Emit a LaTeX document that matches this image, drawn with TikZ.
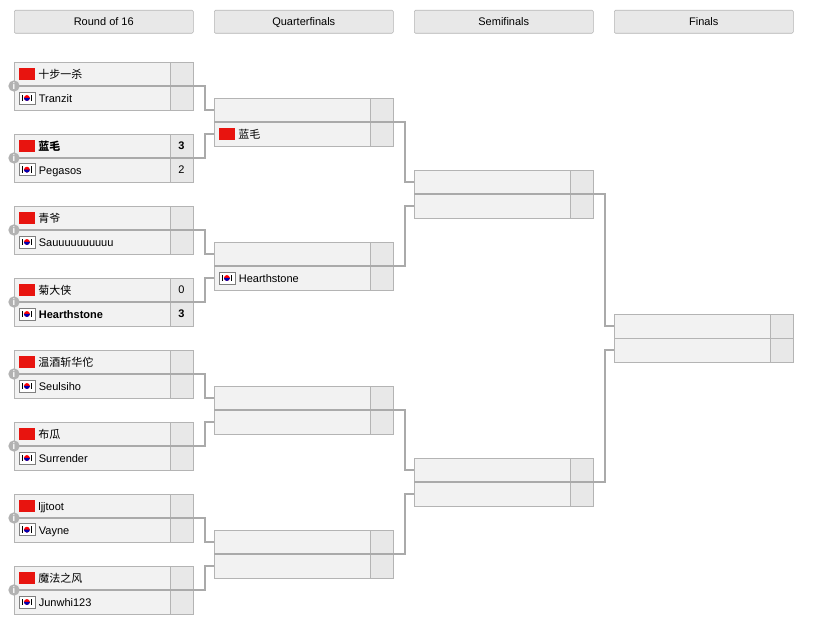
\documentclass[tikz,border=0pt]{standalone}
\usepackage{fontspec}
\setmainfont{Liberation Sans}
\newfontfamily\cjk{Noto Sans CJK SC}
\usetikzlibrary{positioning}
\definecolor{boxfill}{HTML}{F2F2F2}
\definecolor{scorefill}{HTML}{E8E8E8}
\definecolor{boxline}{HTML}{B4B4B4}
\definecolor{linkgray}{HTML}{AAAAAA}
\definecolor{flagred}{HTML}{E8140F}
\newcommand\cn{\tikz[baseline=1pt]\fill[flagred] (0,0) rectangle (12pt,9pt);}
\newcommand\kr{\tikz[baseline=1pt]{\draw[gray,fill=white] (0,0) rectangle (12pt,9pt);
  \fill[red] (6pt,4.5pt) circle (2.2pt); \fill[blue!70!black] (6pt,4.5pt) ++(-2.2pt,0) arc (180:360:2.2pt);
  \fill[black] (2pt,2pt) rectangle (3pt,7pt); \fill[black] (9pt,2pt) rectangle (10pt,7pt);}}
% one row of a match: name part and score part
\newcommand\slot[5]{%
  \node[slot] (#1) at (#2,#3) {#4};
  \node[score, right=0pt of #1] (#1s) {#5};}
\begin{document}
\begin{tikzpicture}[x=0.75pt,y=-0.75pt,
  font=\fontsize{8.25}{10}\selectfont,
  slot/.style={anchor=north west,draw=boxline,fill=boxfill,text width=110pt,inner xsep=3.5pt,inner ysep=0pt,minimum height=18pt,outer sep=0pt},
  score/.style={draw=boxline,fill=scorefill,minimum width=17.25pt,minimum height=18pt,inner sep=0pt,outer sep=0pt},
  head/.style={anchor=north west,draw=boxline,fill=scorefill,rounded corners=1pt,minimum width=134.25pt,minimum height=17.25pt,inner sep=0pt,text height=5pt,text depth=0pt},
  link/.style={draw=linkgray,line width=1.5pt},
  info/.style={circle,fill=linkgray!90,text=white,inner sep=0pt,minimum size=8.5pt,font=\fontsize{7}{7}\bfseries}]
\useasboundingbox (0,0) rectangle (840,620);
% headers
\node[head] (h1) at (14,10) {Round of 16};
\node[head] (h2) at (214,10) {Quarterfinals};
\node[head] (h3) at (414,10) {Semifinals};
\node[head] (h4) at (614,10) {Finals};
% round of 16
\foreach \i/\ta/\tb/\sa/\sb in {
  1/{\cjk 十步一杀}/Tranzit//,
  2/{\cjk\bfseries 蓝毛}/Pegasos/\textbf{3}/2,
  3/{\cjk 青爷}/Sauuuuuuuuuu//,
  4/{\cjk 菊大侠}/\textbf{Hearthstone}/0/\textbf{3},
  5/{\cjk 温酒斩华佗}/Seulsiho//,
  6/{\cjk 布瓜}/Surrender//,
  7/ljjtoot/Vayne//,
  8/{\cjk 魔法之风}/Junwhi123//}{
  \pgfmathsetmacro\y{62+72*(\i-1)}
  \slot{r\i t}{14}{\y}{\cn\ \ta}{\sa}
  \slot{r\i b}{14}{\y+24}{\kr\ \tb}{\sb}
}
% quarterfinals
\slot{q1t}{214}{98}{}{}
\slot{q1b}{214}{122}{\cn\ {\cjk 蓝毛}}{}
\slot{q2t}{214}{242}{}{}
\slot{q2b}{214}{266}{\kr\ Hearthstone}{}
\slot{q3t}{214}{386}{}{}
\slot{q3b}{214}{410}{}{}
\slot{q4t}{214}{530}{}{}
\slot{q4b}{214}{554}{}{}
% semifinals and final
\slot{s1t}{414}{170}{}{}
\slot{s1b}{414}{194}{}{}
\slot{s2t}{414}{458}{}{}
\slot{s2b}{414}{482}{}{}
\slot{f1t}{614}{314}{}{}
\slot{f1b}{614}{338}{}{}
% connectors
\foreach \j in {1,...,4}{
  \pgfmathtruncatemacro\a{2*\j-1}
  \pgfmathtruncatemacro\b{2*\j}
  \draw[link] (r\a t.south west) -- (r\a ts.south east) -- ++(12,0) |- (q\j t.west);
  \draw[link] (r\b t.south west) -- (r\b ts.south east) -- ++(12,0) |- (q\j b.west);
  \node[info] (i\a) at (r\a t.south west) {i};
  \node[info] (i\b) at (r\b t.south west) {i};
}
\foreach \k in {1,2}{
  \pgfmathtruncatemacro\a{2*\k-1}
  \pgfmathtruncatemacro\b{2*\k}
  \draw[link] (q\a t.south west) -- (q\a ts.south east) -- ++(12,0) |- (s\k t.west);
  \draw[link] (q\b t.south west) -- (q\b ts.south east) -- ++(12,0) |- (s\k b.west);
}
\draw[link] (s1t.south west) -- (s1ts.south east) -- ++(12,0) |- (f1t.west);
\draw[link] (s2t.south west) -- (s2ts.south east) -- ++(12,0) |- (f1b.west);
\end{tikzpicture}
\end{document}
